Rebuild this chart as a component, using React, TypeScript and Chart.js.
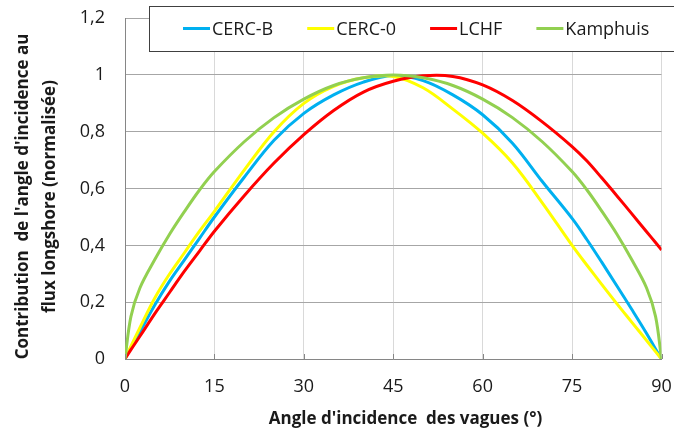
import React, { useEffect, useRef } from "react";
import { Chart, registerables } from "chart.js";

Chart.register(...registerables);

// Angle d'incidence (°)
const angles = [0, 1, 2.5, 5, 7.5, 10, 12.5, 15, 20, 25, 30, 35, 40, 45, 50, 55, 60, 65, 70, 75, 77.5, 80, 82.5, 85, 87.5, 89, 90];
const cercB = [0, 0.04, 0.095, 0.19, 0.275, 0.35, 0.425, 0.5, 0.64, 0.77, 0.865, 0.93, 0.975, 0.998, 0.98, 0.93, 0.86, 0.76, 0.625, 0.495, 0.42, 0.34, 0.258, 0.175, 0.09, 0.035, 0];
const cerc0 = [0, 0.045, 0.11, 0.215, 0.3, 0.375, 0.45, 0.52, 0.665, 0.8, 0.9, 0.96, 0.99, 0.995, 0.955, 0.88, 0.795, 0.69, 0.55, 0.4, 0.33, 0.262, 0.195, 0.13, 0.065, 0.026, 0];
const lchf = [0, 0.033, 0.08, 0.16, 0.235, 0.31, 0.38, 0.45, 0.575, 0.69, 0.79, 0.875, 0.94, 0.978, 0.997, 0.995, 0.965, 0.91, 0.835, 0.748, 0.697, 0.637, 0.575, 0.512, 0.448, 0.41, 0.384];
const kamphuis = [0, 0.15, 0.25, 0.35, 0.44, 0.52, 0.595, 0.66, 0.765, 0.85, 0.915, 0.963, 0.99, 1.0, 0.99, 0.963, 0.915, 0.85, 0.765, 0.66, 0.595, 0.52, 0.44, 0.35, 0.25, 0.15, 0];

const seriesLabels = ["CERC-B", "CERC-0", "LCHF", "Kamphuis"];
const seriesValues = [cercB, cerc0, lchf, kamphuis];
const seriesColors = ["#00B0F0", "#FFFF00", "#FF0000", "#92D050"];

const xTicks = [0, 15, 30, 45, 60, 75, 90];
const yTicks = [0, 0.2, 0.4, 0.6, 0.8, 1, 1.2];

const xTitle = "Angle d'incidence  des vagues (°)";
const yTitle = ["Contribution  de l'angle d'incidence au", "flux longshore (normalisée)"];

const FONT = "'Open Sans', sans-serif";
const TEXT = "#1a1a1a";

function zeroPadding(scale: any) {
  scale.paddingTop = 0;
  scale.paddingBottom = 0;
  scale.paddingLeft = 0;
  scale.paddingRight = 0;
}

export default function App() {
  const ref = useRef<HTMLCanvasElement>(null);

  useEffect(() => {
    const prevMargin = document.body.style.margin;
    document.body.style.margin = "0";
    const canvas = ref.current;
    if (!canvas) return;

    const overlay = {
      id: "overlay",
      afterDraw(chart: any) {
        const c = chart.ctx as CanvasRenderingContext2D;
        const area = chart.chartArea;
        const xs = chart.scales.x;
        c.save();
        // inside tick marks on x axis
        c.strokeStyle = "#868686";
        c.lineWidth = 1;
        xTicks.forEach((t) => {
          const px = Math.round(xs.getPixelForValue(t)) + 0.5;
          c.beginPath();
          c.moveTo(px, area.bottom);
          c.lineTo(px, area.bottom - 5);
          c.stroke();
        });

        // axis titles
        c.fillStyle = TEXT;
        c.font = `bold 17px ${FONT}`;
        c.textAlign = "center";
        c.textBaseline = "alphabetic";
        c.fillText(xTitle, 405.5, 423.5);
        yTitle.forEach((line, i) => {
          c.save();
          c.translate(27.5 + i * 27, 196.5);
          c.rotate(-Math.PI / 2);
          c.fillText(line, 0, 0);
          c.restore();
        });

        // legend box
        c.fillStyle = "#ffffff";
        c.fillRect(149.5, 6.5, 540, 45);
        c.strokeStyle = "#404040";
        c.lineWidth = 1;
        c.strokeRect(149.5, 6.5, 540, 45);
        c.font = `18px ${FONT}`;
        c.textAlign = "left";
        let x = 183;
        chart.data.datasets.forEach((ds: any) => {
          c.strokeStyle = ds.borderColor;
          c.lineWidth = 3;
          c.beginPath();
          c.moveTo(x, 28.5);
          c.lineTo(x + 27, 28.5);
          c.stroke();
          c.fillStyle = TEXT;
          c.fillText(ds.label, x + 29, 35);
          x += 29 + c.measureText(ds.label).width + 34;
        });
        c.restore();
      },
    };

    const chart = new Chart(canvas, {
      type: "line",
      data: {
        datasets: seriesLabels.map((label, i) => ({
          label,
          data: angles.map((a, j) => ({ x: a, y: seriesValues[i][j] })),
          borderColor: seriesColors[i],
          backgroundColor: seriesColors[i],
          borderWidth: 3,
          pointRadius: 0,
          tension: 0.35,
          fill: false,
          order: seriesLabels.length - 1 - i,
        })),
      },
      options: {
        responsive: false,
        animation: false,
        devicePixelRatio: 1,
        layout: { autoPadding: false, padding: { left: 0, right: 12.5, top: 18.2, bottom: 0 } },
        plugins: {
          legend: { display: false },
          tooltip: { enabled: false },
          title: { display: false },
        },
        scales: {
          x: {
            type: "linear",
            min: 0,
            max: 90,
            afterBuildTicks: (scale: any) => {
              scale.ticks = xTicks.map((v) => ({ value: v }));
            },
            afterFit: (scale: any) => {
              scale.height = 73;
              zeroPadding(scale);
            },
            grid: { color: "#d9d9d9", lineWidth: 1, drawTicks: false },
            border: { color: "#868686", width: 1 },
            ticks: {
              padding: 17,
              color: TEXT,
              font: { family: FONT, size: 18 },
              maxRotation: 0,
            },
          },
          y: {
            type: "linear",
            min: 0,
            max: 1.2,
            afterBuildTicks: (scale: any) => {
              scale.ticks = yTicks.map((v) => ({ value: v }));
            },
            afterFit: (scale: any) => {
              scale.width = 125;
              zeroPadding(scale);
            },
            grid: { color: "#a6a6a6", lineWidth: 1, drawTicks: false },
            border: { color: "#868686", width: 1 },
            ticks: {
              padding: 20,
              color: TEXT,
              font: { family: FONT, size: 18 },
              callback: (v: any) => String(Math.round(Number(v) * 10) / 10).replace(".", ","),
            },
          },
        },
      },
      plugins: [overlay],
    });

    return () => {
      chart.destroy();
      document.body.style.margin = prevMargin;
    };
  }, []);

  return (
    <div style={{ width: 674, height: 432, position: "relative" }}>
      <canvas ref={ref} width={674} height={432} style={{ display: "block" }} />
    </div>
  );
}
